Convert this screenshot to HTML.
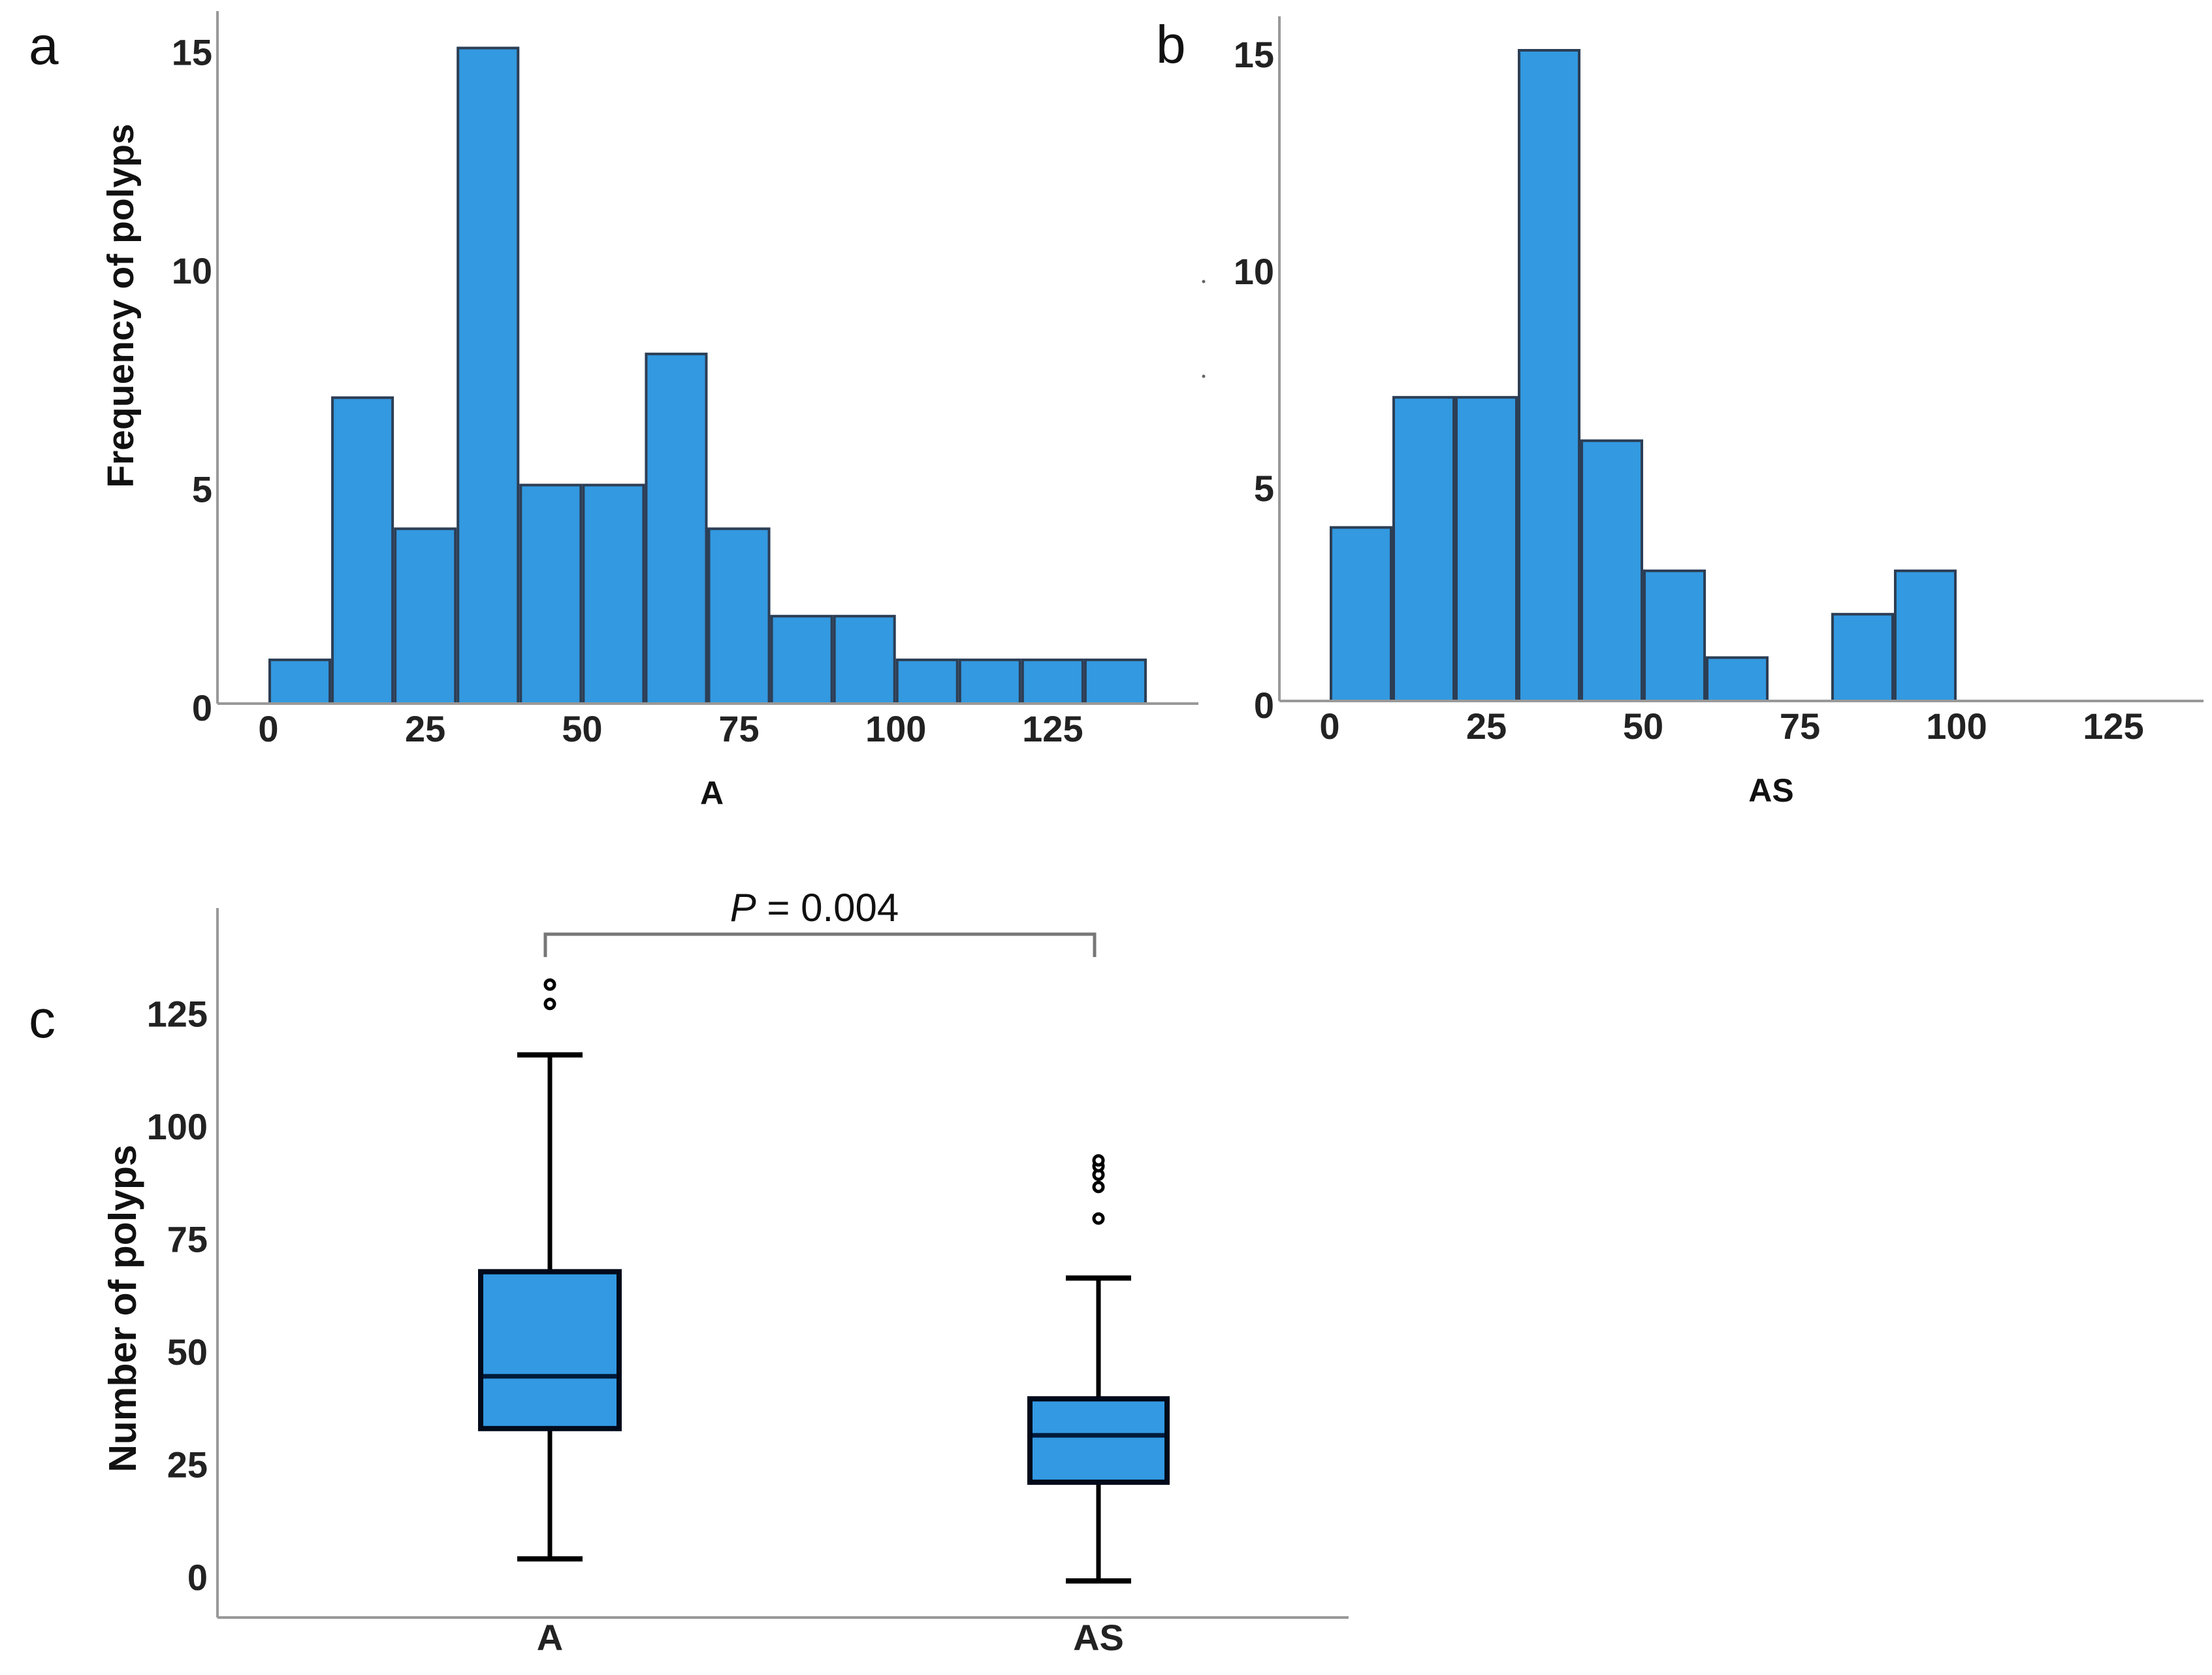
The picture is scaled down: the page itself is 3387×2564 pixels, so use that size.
<!DOCTYPE html>
<html><head><meta charset="utf-8">
<style>
html,body{margin:0;padding:0;background:#fff;}
svg{display:block;}
.tk{font-family:"Liberation Sans Narrow","Liberation Sans",sans-serif;font-weight:bold;font-size:56px;fill:#222;}
.ttl{font-family:"Liberation Sans",sans-serif;font-weight:bold;font-size:50px;fill:#111;}
.pl{font-family:"Liberation Sans",sans-serif;font-size:82px;fill:#111;}
</style></head>
<body>
<svg id="fig" width="3387" height="2564" viewBox="0 0 3387 2564" xmlns="http://www.w3.org/2000/svg">
<rect width="3387" height="2564" fill="#fff"/>
</svg>
<script>
// Panel a histogram data
const binStartsA = [0,10,20,30,40,50,60,70,80,90,100,110,120,130];
const countsA = [1,7,4,15,5,5,8,4,2,2,1,1,1,1];
// Panel b histogram data
const binStartsB = [0,10,20,30,40,50,60,70,80,90];
const countsB = [4,7,7,15,6,3,1,0,2,3];
const histYTicks = [0,5,10,15];
const histXTicks = [0,25,50,75,100,125];
// Panel c boxplot data
const groups = ["A","AS"];
const whiskerLow = [4.9,0];
const q1 = [33.8,21.9];
const medians = [45.4,32.3];
const q3 = [68.6,40.4];
const whiskerHigh = [116.7,67.2];
const outliersA = [128,132.3];
const outliersAS = [80.4,87.4,90.1,92,93.3];
const boxYTicks = [0,25,50,75,100,125];

const NS="http://www.w3.org/2000/svg";
const svg=document.getElementById('fig');
function mk(tag,attrs,parent){const e=document.createElementNS(NS,tag);for(const k in attrs)e.setAttribute(k,attrs[k]);(parent||svg).appendChild(e);return e;}
function txt(s,attrs,parent){const e=mk('text',attrs,parent);e.textContent=s;return e;}

function hist(cfg){
  const g=mk('g',{});
  
  
  const xs=v=>cfg.x0+v*cfg.xu, ys=v=>cfg.base-v*cfg.yu;
  cfg.starts.forEach((s,i)=>{
    if(cfg.counts[i]<=0)return;
    const r=mk('rect',{x:xs(s)+2,y:ys(cfg.counts[i]),width:cfg.xu*10-4,height:cfg.counts[i]*cfg.yu,fill:'#3399e0',stroke:'#2c3e55','stroke-width':4},g);
    
    
  });
  const ya=mk('line',{x1:cfg.ax,y1:cfg.top,x2:cfg.ax,y2:cfg.base,stroke:'#999','stroke-width':4},g);
  
  const xa=mk('line',{x1:cfg.ax,y1:cfg.base,x2:cfg.xend,y2:cfg.base,stroke:'#999','stroke-width':4},g);
  
  histYTicks.forEach(v=>{const t=txt(String(v),{x:cfg.ax-8,y:ys(v)+26,'text-anchor':'end',class:'tk'},g);});
  histXTicks.forEach(v=>{const t=txt(String(v),{x:xs(v),y:cfg.base+58,'text-anchor':'middle',class:'tk'},g);});
  const xt=txt(cfg.xtitle,{x:cfg.xtx,y:cfg.base+154,'text-anchor':'middle',class:'ttl'},g);
  
}
hist({name:'histogram-a',starts:binStartsA,counts:countsA,x0:411,xu:9.607,base:1077,yu:66.9,ax:333,top:17,xend:1835,xtitle:'A',xtx:1090});
hist({name:'histogram-b',starts:binStartsB,counts:countsB,x0:2036,xu:9.6,base:1073,yu:66.4,ax:1959,top:25,xend:3374,xtitle:'AS',xtx:2712});

let yt=txt('Frequency of polyps',{x:0,y:0,'text-anchor':'middle',class:'ttl',style:'font-size:57px',transform:'translate(204,468) rotate(-90)'});

let la=txt('a',{x:44,y:98,class:'pl'});
let lb=txt('b',{x:1770,y:96,class:'pl'});
let d1=mk('circle',{cx:1843,cy:431,r:2.5,fill:'#666'});
let d2=mk('circle',{cx:1843,cy:576,r:2.5,fill:'#666'});

// Panel c
const cg=mk('g',{});


const cy=v=>2420-v*6.9;
const cx=[842,1682];
const halfW=[106,105];
const capHalf=50;
const cya=mk('line',{x1:333,y1:1390,x2:333,y2:2476,stroke:'#999','stroke-width':4},cg);

const cxa=mk('line',{x1:333,y1:2476,x2:2065,y2:2476,stroke:'#999','stroke-width':4},cg);

boxYTicks.forEach(v=>{const t=txt(String(v),{x:318,y:cy(v)+14,'text-anchor':'end',class:'tk'},cg);});
groups.forEach((gname,i)=>{
  const x=cx[i];
  const w=mk('line',{x1:x,y1:cy(whiskerHigh[i]),x2:x,y2:cy(whiskerLow[i]),stroke:'#000','stroke-width':7},cg);
  
  [whiskerHigh[i],whiskerLow[i]].forEach(v=>{const c=mk('line',{x1:x-capHalf,y1:cy(v),x2:x+capHalf,y2:cy(v),stroke:'#000','stroke-width':8},cg);});
  const b=mk('rect',{x:x-halfW[i],y:cy(q3[i]),width:halfW[i]*2,height:cy(q1[i])-cy(q3[i]),fill:'#3399e2',stroke:'#000a1a','stroke-width':8},cg);
  
  const m=mk('line',{x1:x-halfW[i]+4,y1:cy(medians[i]),x2:x+halfW[i]-4,y2:cy(medians[i]),stroke:'#001a3a','stroke-width':7},cg);
  
  const l=txt(gname,{x:x,y:2526,'text-anchor':'middle',class:'tk'},cg);
  
});
[outliersA,outliersAS].forEach((arr,i)=>{arr.forEach(v=>{const o=mk('circle',{cx:cx[i],cy:cy(v),r:7,fill:'#fff',stroke:'#000','stroke-width':5},cg);});});
const br=mk('path',{d:'M835 1465 V1430 H1676 V1465',fill:'none',stroke:'#777','stroke-width':5},cg);

const pt=mk('text',{x:1247,y:1410,'text-anchor':'middle',style:'font-family:"Liberation Sans Narrow","Liberation Sans",sans-serif;font-size:60px;fill:#111;'},cg);

const pi=mk('tspan',{'font-style':'italic'},pt);pi.textContent='P';
const pr=mk('tspan',{},pt);pr.textContent=' = 0.004';
let ct=txt('Number of polyps',{x:0,y:0,'text-anchor':'middle',class:'ttl',style:'font-size:59px',transform:'translate(208,2003) rotate(-90)'});

let lc=txt('c',{x:44,y:1588,class:'pl'});
</script>
</body></html>
